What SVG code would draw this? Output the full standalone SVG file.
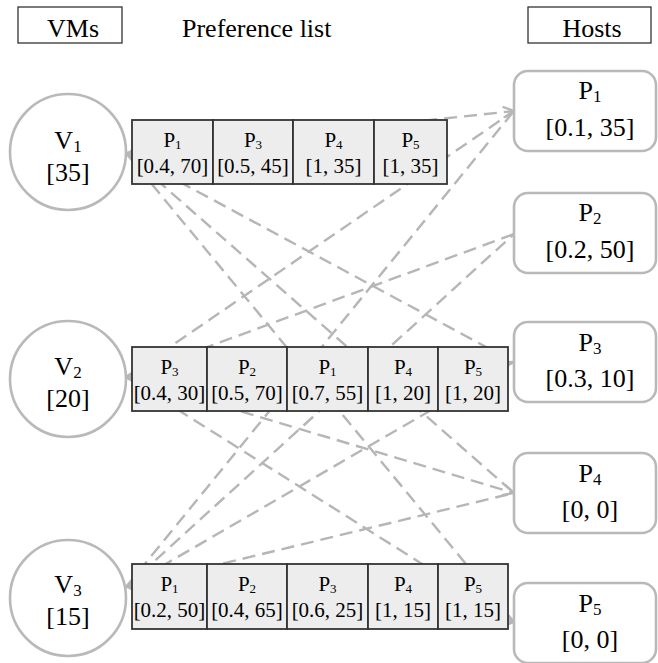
<svg xmlns="http://www.w3.org/2000/svg" width="658" height="663" viewBox="0 0 658 663">
  <style>
    .hdr { fill: #ffffff; stroke: #333333; stroke-width: 1.3; }
    .t { font-family: "Liberation Serif", "Times New Roman", serif; fill: #000000; text-anchor: middle; }
    .big { font-size: 26px; }
    .small { font-size: 21px; }
    .vm { fill: #ffffff; stroke: #b9b9b9; stroke-width: 2.6; }
    .host { fill: #ffffff; stroke: #b9b9b9; stroke-width: 2.6; }
    .cell { fill: #ecedec; stroke: #333333; stroke-width: 1.8; }
    .edge { fill: none; stroke: #b6b6b6; stroke-width: 2.4; stroke-dasharray: 13 7; }
  </style>
  <defs>
    <marker id="open" markerUnits="userSpaceOnUse" markerWidth="16" markerHeight="16" refX="12" refY="6" orient="auto">
      <path d="M1,0.5 L12,6 L1,11.5" fill="none" stroke="#b6b6b6" stroke-width="2.2"/>
    </marker>
    <marker id="solid" markerUnits="userSpaceOnUse" markerWidth="14" markerHeight="14" refX="10" refY="5" orient="auto-start-reverse">
      <path d="M0,0 L10,5 L0,10 z" fill="#b6b6b6"/>
    </marker>
  </defs>

  <!-- column headers -->
  <g id="header-vms">
    <rect class="hdr" x="18" y="7" width="104" height="36"/>
    <text class="t big" x="73" y="37">VMs</text>
  </g>
  <g id="header-pref">
    <text class="t big" x="182" y="37" style="text-anchor:start">Preference list</text>
  </g>
  <g id="header-hosts">
    <rect class="hdr" x="528" y="7" width="123" height="36"/>
    <text class="t big" x="592" y="37">Hosts</text>
  </g>

  <!-- VM to host connectors (drawn under the preference tables) -->
  <g id="connectors">
    <line class="edge" x1="126" y1="153" x2="514" y2="111" marker-start="url(#solid)" marker-end="url(#open)"/>
    <line class="edge" x1="126" y1="153" x2="514" y2="362"/>
    <line class="edge" x1="126" y1="153" x2="514" y2="493"/>
    <line class="edge" x1="126" y1="153" x2="514" y2="622"/>

    <line class="edge" x1="126" y1="377" x2="514" y2="111"/>
    <line class="edge" x1="126" y1="377" x2="514" y2="234"/>
    <line class="edge" x1="126" y1="377" x2="514" y2="362" marker-start="url(#solid)"/>
    <line class="edge" x1="126" y1="377" x2="514" y2="493" marker-end="url(#open)"/>
    <line class="edge" x1="126" y1="377" x2="514" y2="622"/>

    <line class="edge" x1="126" y1="587" x2="514" y2="111"/>
    <line class="edge" x1="126" y1="587" x2="514" y2="234"/>
    <line class="edge" x1="126" y1="587" x2="514" y2="362"/>
    <line class="edge" x1="126" y1="587" x2="514" y2="493"/>
    <line class="edge" x1="126" y1="587" x2="514" y2="622" marker-start="url(#solid)" marker-end="url(#open)"/>
  </g>

  <!-- virtual machines -->
  <g id="V1">
    <circle class="vm" cx="68" cy="152" r="58"/>
    <text class="t big" x="68" y="149">V<tspan font-size="17" dy="3">1</tspan></text>
    <text class="t big" x="68" y="181">[35]</text>
  </g>
  <g id="V2">
    <circle class="vm" cx="68" cy="379" r="58"/>
    <text class="t big" x="68" y="375">V<tspan font-size="17" dy="3">2</tspan></text>
    <text class="t big" x="68" y="407">[20]</text>
  </g>
  <g id="V3">
    <circle class="vm" cx="68" cy="598" r="58"/>
    <text class="t big" x="68" y="593">V<tspan font-size="17" dy="3">3</tspan></text>
    <text class="t big" x="68" y="625">[15]</text>
  </g>

  <!-- preference list of V1 -->
  <g id="pref-V1">
    <rect class="cell" x="132" y="120" width="81" height="64"/>
    <rect class="cell" x="213" y="120" width="80" height="64"/>
    <rect class="cell" x="293" y="120" width="81" height="64"/>
    <rect class="cell" x="374" y="120" width="73" height="64"/>
    <text class="t small" x="172.5" y="147">P<tspan font-size="13" dy="2">1</tspan></text>
    <text class="t small" x="172.5" y="173">[0.4, 70]</text>
    <text class="t small" x="253" y="147">P<tspan font-size="13" dy="2">3</tspan></text>
    <text class="t small" x="253" y="173">[0.5, 45]</text>
    <text class="t small" x="333.5" y="147">P<tspan font-size="13" dy="2">4</tspan></text>
    <text class="t small" x="333.5" y="173">[1, 35]</text>
    <text class="t small" x="410.5" y="147">P<tspan font-size="13" dy="2">5</tspan></text>
    <text class="t small" x="410.5" y="173">[1, 35]</text>
  </g>

  <!-- preference list of V2 -->
  <g id="pref-V2">
    <rect class="cell" x="132" y="347" width="75" height="64"/>
    <rect class="cell" x="207" y="347" width="80" height="64"/>
    <rect class="cell" x="287" y="347" width="81" height="64"/>
    <rect class="cell" x="368" y="347" width="70" height="64"/>
    <rect class="cell" x="438" y="347" width="70" height="64"/>
    <text class="t small" x="169.5" y="374">P<tspan font-size="13" dy="2">3</tspan></text>
    <text class="t small" x="169.5" y="400">[0.4, 30]</text>
    <text class="t small" x="247" y="374">P<tspan font-size="13" dy="2">2</tspan></text>
    <text class="t small" x="247" y="400">[0.5, 70]</text>
    <text class="t small" x="327.5" y="374">P<tspan font-size="13" dy="2">1</tspan></text>
    <text class="t small" x="327.5" y="400">[0.7, 55]</text>
    <text class="t small" x="403" y="374">P<tspan font-size="13" dy="2">4</tspan></text>
    <text class="t small" x="403" y="400">[1, 20]</text>
    <text class="t small" x="473" y="374">P<tspan font-size="13" dy="2">5</tspan></text>
    <text class="t small" x="473" y="400">[1, 20]</text>
  </g>

  <!-- preference list of V3 -->
  <g id="pref-V3">
    <rect class="cell" x="132" y="564" width="75" height="65"/>
    <rect class="cell" x="207" y="564" width="80" height="65"/>
    <rect class="cell" x="287" y="564" width="81" height="65"/>
    <rect class="cell" x="368" y="564" width="70" height="65"/>
    <rect class="cell" x="438" y="564" width="70" height="65"/>
    <text class="t small" x="169.5" y="591">P<tspan font-size="13" dy="2">1</tspan></text>
    <text class="t small" x="169.5" y="617">[0.2, 50]</text>
    <text class="t small" x="247" y="591">P<tspan font-size="13" dy="2">2</tspan></text>
    <text class="t small" x="247" y="617">[0.4, 65]</text>
    <text class="t small" x="327.5" y="591">P<tspan font-size="13" dy="2">3</tspan></text>
    <text class="t small" x="327.5" y="617">[0.6, 25]</text>
    <text class="t small" x="403" y="591">P<tspan font-size="13" dy="2">4</tspan></text>
    <text class="t small" x="403" y="617">[1, 15]</text>
    <text class="t small" x="473" y="591">P<tspan font-size="13" dy="2">5</tspan></text>
    <text class="t small" x="473" y="617">[1, 15]</text>
  </g>

  <!-- hosts -->
  <g id="P1">
    <rect class="host" x="514" y="71" width="142" height="80" rx="14"/>
    <text class="t big" x="590" y="99">P<tspan font-size="17" dy="3">1</tspan></text>
    <text class="t big" x="590" y="136">[0.1, 35]</text>
  </g>
  <g id="P2">
    <rect class="host" x="514" y="193" width="142" height="80" rx="14"/>
    <text class="t big" x="590" y="221">P<tspan font-size="17" dy="3">2</tspan></text>
    <text class="t big" x="590" y="258">[0.2, 50]</text>
  </g>
  <g id="P3">
    <rect class="host" x="514" y="322" width="142" height="80" rx="14"/>
    <text class="t big" x="590" y="351">P<tspan font-size="17" dy="3">3</tspan></text>
    <text class="t big" x="590" y="387">[0.3, 10]</text>
  </g>
  <g id="P4">
    <rect class="host" x="514" y="453" width="142" height="80" rx="14"/>
    <text class="t big" x="590" y="482">P<tspan font-size="17" dy="3">4</tspan></text>
    <text class="t big" x="590" y="518">[0, 0]</text>
  </g>
  <g id="P5">
    <rect class="host" x="514" y="583" width="142" height="80" rx="14"/>
    <text class="t big" x="590" y="612">P<tspan font-size="17" dy="3">5</tspan></text>
    <text class="t big" x="590" y="648">[0, 0]</text>
  </g>
</svg>
